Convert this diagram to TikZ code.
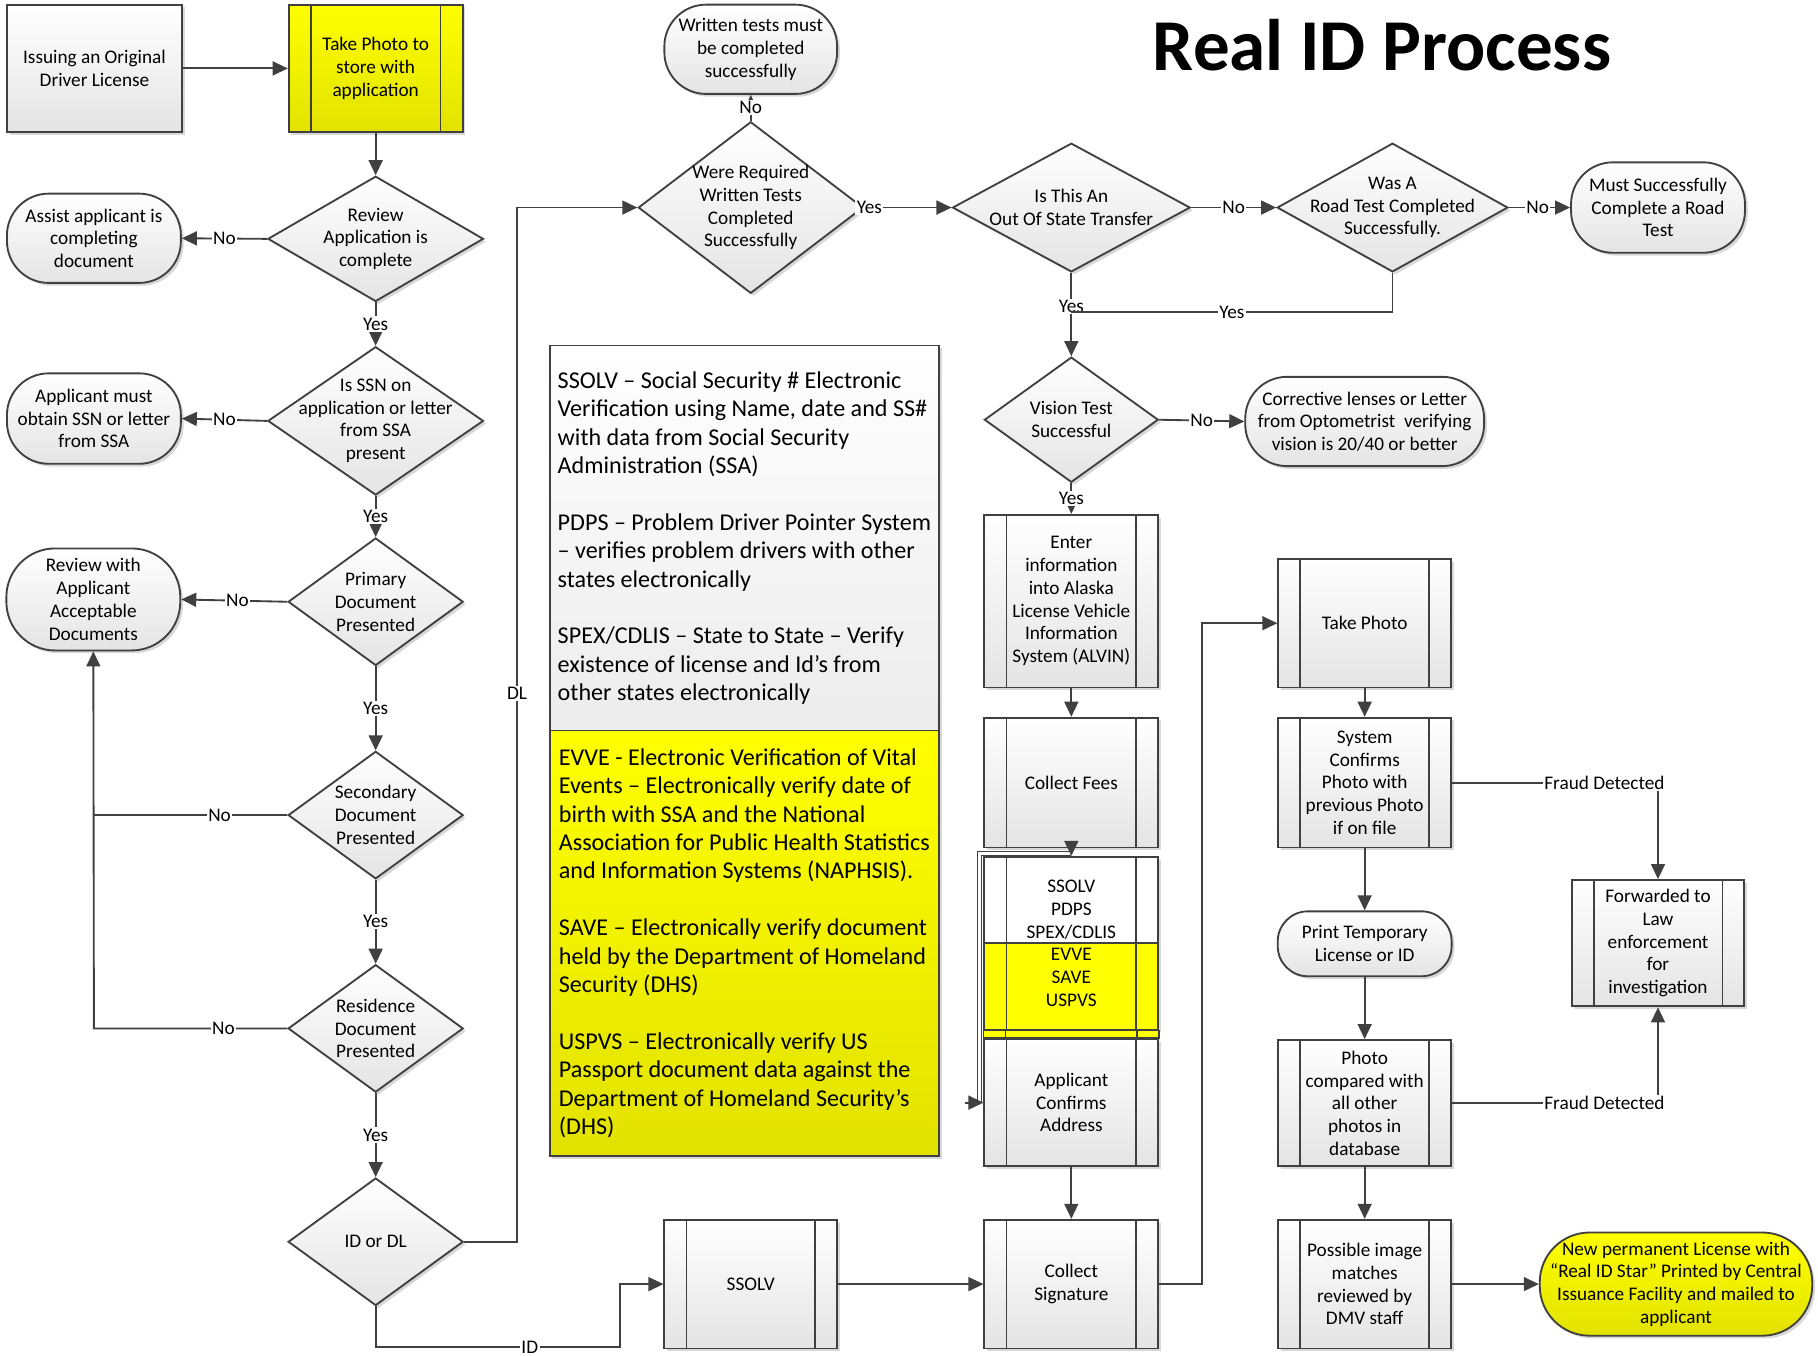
\documentclass[tikz,border=0pt]{standalone}
\usepackage{fontspec}
\setmainfont{Carlito}
\usetikzlibrary{shapes.geometric,arrows.meta,shadows}
\definecolor{lc}{HTML}{404040}
\definecolor{gbot}{HTML}{E4E4E4}
\definecolor{ytop}{HTML}{FFFF00}
\definecolor{ybot}{HTML}{E2E200}
\newcommand\nfont{\fontsize{8.3pt}{9.8pt}\selectfont}
\newcommand\ifont{\fontsize{10.4pt}{12.25pt}\selectfont}
\newcommand\tfont{\fontsize{31.5pt}{36pt}\selectfont\bfseries}
\newcommand\pplines{\draw[lc,line width=.75pt]
  ([xshift=9.5pt]path picture bounding box.north west) -- ([xshift=9.5pt]path picture bounding box.south west)
  ([xshift=-9.5pt]path picture bounding box.north east) -- ([xshift=-9.5pt]path picture bounding box.south east);}
\begin{document}
\begin{tikzpicture}[x=0.5pt,y=-0.5pt,
  shd/.style={drop shadow={shadow xshift=1.2pt, shadow yshift=-1.2pt, opacity=.25, fill=black!60}},
  gbox/.style={rectangle, draw=lc, line width=.8pt, top color=white, bottom color=gbot, shd,
     font=\nfont, align=center, inner sep=2pt, text=black},
  pbox/.style={gbox, path picture={\pplines}},
  ybox/.style={pbox, top color=ytop, bottom color=ybot},
  dec/.style={diamond, draw=lc, line width=.8pt, top color=white, bottom color=gbot, shd, inner sep=0pt},
  dtxt/.style={font=\nfont, align=center, inner sep=0pt, text=black},
  term/.style={gbox, rounded corners=18pt},
  lab/.style={fill=white, inner sep=.6pt, font=\nfont, text=black},
  ln/.style={draw=lc, line width=.8pt},
  arr/.style={draw=lc, line width=.8pt, -{Triangle[length=6.5pt,width=6pt]}},
  dbl/.style={draw=lc, line width=.45pt, double=white, double distance=1.1pt}
]
\fill[white] (0,0) rectangle (1568,1168.7);
\useasboundingbox (0,0) rectangle (1568,1168.7);

% title
\node[font=\tfont, text=black] (title) at (1192,39) {Real ID Process};

% left column
\node[gbox, minimum width=75.5pt, minimum height=55pt] (issue) at (81.5,59) {Issuing an Original\\Driver License};
\node[ybox, minimum width=75pt, minimum height=55pt] (tp1) at (324,59) {Take Photo to\\store with\\application};
\node[dec, minimum width=93pt, minimum height=54pt, label={[dtxt]center:{Review\\Application is\\complete}}] (rev) at (324,206) {};
\node[term, minimum width=75pt, minimum height=38.5pt] (assist) at (81,205.5) {Assist applicant is\\completing\\document};
\node[dec, minimum width=93pt, minimum height=64pt, label={[dtxt]center:{Is SSN on\\application or letter\\from SSA\\present}}] (ssn) at (324,363) {};
\node[term, minimum width=75pt, minimum height=39pt] (appmust) at (81,361) {Applicant must\\obtain SSN or letter\\from SSA};
\node[dec, minimum width=75.5pt, minimum height=55pt, label={[dtxt]center:{Primary\\Document\\Presented}}] (prim) at (324,519) {};
\node[term, rounded corners=21pt, minimum width=75pt, minimum height=44pt] (revwith) at (80.5,517) {Review with\\Applicant\\Acceptable\\Documents};
\node[dec, minimum width=75.5pt, minimum height=55pt, label={[dtxt]center:{Secondary\\Document\\Presented}}] (sec) at (324,703) {};
\node[dec, minimum width=75.5pt, minimum height=55pt, label={[dtxt]center:{Residence\\Document\\Presented}}] (res) at (324,887) {};
\node[dec, minimum width=75.5pt, minimum height=55pt, label={[dtxt]center:{ID or DL}}] (iddl) at (324,1071) {};

% top middle
\node[term, minimum width=74.5pt, minimum height=38.5pt] (written) at (647.5,42.5) {Written tests must\\be completed\\successfully};
\node[dec, minimum width=97pt, minimum height=74pt, label={[dtxt]center:{Were Required\\Written Tests\\Completed\\Successfully}}] (were) at (647.5,179) {};
\node[dec, minimum width=102.5pt, minimum height=55.5pt, label={[dtxt]center:{Is This An\\Out Of State Transfer}}] (oos) at (924,179) {};
\node[dec, minimum width=99.5pt, minimum height=55.5pt, label={[dtxt]center:{Was A\\Road Test Completed\\Successfully.}}] (road) at (1201,179) {};
\node[term, minimum width=75pt, minimum height=39pt] (must) at (1430,179) {Must Successfully\\Complete a Road\\Test};
\node[dec, minimum width=75pt, minimum height=54pt, label={[dtxt]center:{Vision Test\\Successful}}] (vis) at (924,362) {};
\node[term, minimum width=103pt, minimum height=38.5pt] (corr) at (1177,363.5) {Corrective lenses or Letter\\from Optometrist\ \ verifying\\vision is 20/40 or better};

% info boxes
\node[rectangle, draw=lc, line width=.8pt, top color=white, bottom color=gbot!70, shd,
  minimum width=168pt, minimum height=166pt, align=left, font=\ifont, inner sep=2pt, text=black] (info1) at (642,464)
  {SSOLV – Social Security \# Electronic\\Verification using Name, date and SS\#\\with data from Social Security\\Administration (SSA)\\[12.25pt]
   PDPS – Problem Driver Pointer System\\– verifies problem drivers with other\\states electronically\\[12.25pt]
   SPEX/CDLIS – State to State – Verify\\existence of license and Id’s from\\other states electronically};
\node[rectangle, draw=lc, line width=.8pt, top color=ytop, bottom color=ybot, shd,
  minimum width=168pt, minimum height=183.5pt, align=left, font=\ifont, inner sep=2pt, text=black] (info2) at (642,813.5)
  {EVVE - Electronic Verification of Vital\\Events – Electronically verify date of\\birth with SSA and the National\\Association for Public Health Statistics\\and Information Systems (NAPHSIS).\\[12.25pt]
   SAVE – Electronically verify document\\held by the Department of Homeland\\Security (DHS)\\[12.25pt]
   USPVS – Electronically verify US\\Passport document data against the\\Department of Homeland Security’s\\(DHS)};

% middle column
\node[pbox, minimum width=75pt, minimum height=74.5pt] (enter) at (924,518.5) {Enter\\information\\into Alaska\\License Vehicle\\Information\\System (ALVIN)};
\node[pbox, minimum width=75pt, minimum height=56pt] (fees) at (924,675) {Collect Fees};
\node[gbox, top color=white, bottom color=white, minimum width=75pt, minimum height=74.5pt,
  path picture={\fill[ytop] (path picture bounding box.west) rectangle (path picture bounding box.south east);
    \draw[lc,line width=.8pt] (path picture bounding box.west) -- (path picture bounding box.east); \pplines}] (stk) at (924,813.5)
  {SSOLV\\PDPS\\SPEX/CDLIS\\EVVE\\SAVE\\USPVS};
\node[pbox, minimum width=75pt, minimum height=55pt] (app) at (924,951) {Applicant\\Confirms\\Address};
\path[fill=ytop, draw=lc, line width=.8pt] (stk.south west) rectangle (app.north east);
\draw[lc, line width=.8pt] ([xshift=9.5pt]stk.south west) -- ([xshift=9.5pt]app.north west)
  ([xshift=-9.5pt]stk.south east) -- ([xshift=-9.5pt]app.north east);
\node[pbox, minimum width=75pt, minimum height=55.5pt] (sig) at (924,1107.5) {Collect\\Signature};
\node[pbox, minimum width=74.5pt, minimum height=55.5pt] (ssolv) at (647.5,1107.5) {SSOLV};

% right column
\node[pbox, minimum width=74.5pt, minimum height=55.5pt] (tp2) at (1177,537.5) {Take Photo};
\node[pbox, minimum width=74.5pt, minimum height=56pt] (sys) at (1177,675) {System\\Confirms\\Photo with\\previous Photo\\if on file};
\node[term, rounded corners=13pt, minimum width=75pt, minimum height=28pt] (print) at (1177,814) {Print Temporary\\License or ID};
\node[pbox, minimum width=74.5pt, minimum height=54.5pt] (cmp) at (1177,951.5) {Photo\\compared with\\all other\\photos in\\database};
\node[pbox, minimum width=74.5pt, minimum height=55.5pt] (poss) at (1177,1107.5) {Possible image\\matches\\reviewed by\\DMV staff};
\node[pbox, minimum width=74.5pt, minimum height=54.5pt] (fwd) at (1430,813.5) {Forwarded to\\Law\\enforcement\\for\\investigation};
\node[term, rounded corners=21.5pt, top color=ytop, bottom color=ybot, minimum width=117.5pt, minimum height=44.5pt] (newp) at (1445.5,1107.5)
  {New permanent License with\\“Real ID Star” Printed by Central\\Issuance Facility and mailed to\\applicant};

% coordinates
\coordinate (secj) at (81,703);
\coordinate (resj) at (81,887);
\coordinate (dl1) at (446,1071);
\coordinate (dl2) at (446,179);
\coordinate (id1) at (324,1162);
\coordinate (id2) at (535,1162);
\coordinate (id3) at (535,1107.5);
\coordinate (rdj) at (1201,269);
\coordinate (rdk) at (924,269);
\coordinate (dA) at (924,736);
\coordinate (dB) at (845,736);
\coordinate (dC) at (845,951);
\coordinate (dD) at (832,951);
\coordinate (sg1) at (1037,1107.5);
\coordinate (sg2) at (1037,537.5);
\coordinate (fr1) at (1430,675);
\coordinate (fr2) at (1430,951.5);

% connectors
\draw[arr] (issue) -- (tp1);
\draw[arr] (tp1) -- (rev);
\draw[arr] (rev.west) -- node[lab]{No} (assist.east);
\draw[arr] (rev.south) -- node[lab]{Yes} (ssn.north);
\draw[arr] (ssn.west) -- node[lab]{No} (appmust.east);
\draw[arr] (ssn.south) -- node[lab]{Yes} (prim.north);
\draw[arr] (prim.west) -- node[lab,pos=.47]{No} (revwith.east);
\draw[arr] (prim.south) -- node[lab]{Yes} (sec.north);
\draw[ln] (sec.west) -- node[lab,pos=.35]{No} (secj);
\draw[arr] (sec.south) -- node[lab]{Yes} (res.north);
\draw[arr] (res.west) -- node[lab,pos=.33]{No} (resj) -- (revwith.south);
\draw[arr] (res.south) -- node[lab]{Yes} (iddl.north);
\draw[arr] (iddl.east) -- (dl1) -- node[lab,pos=.53]{DL} (dl2) -- (were.west);
\draw[arr] (iddl.south) -- (id1) -- node[lab,pos=.63]{ID} (id2) -- (id3) -- (ssolv.west);
\draw[arr] (were.north) -- node[lab]{No} (written.south);
\draw[arr] (were.east) -- node[lab,pos=.06]{Yes} (oos.west);
\draw[arr] (oos.east) -- node[lab]{No} (road.west);
\draw[arr] (road.east) -- node[lab,pos=.47]{No} (must.west);
\draw[arr] (oos.south) -- node[lab,pos=.4]{Yes} (vis.north);
\draw[ln] (road.south) -- (rdj) -- node[lab]{Yes} (rdk);
\draw[arr] (vis.east) -- node[lab]{No} (corr.west);
\draw[arr] (vis.south) -- node[lab]{Yes} (enter.north);
\draw[arr] (enter) -- (fees);
\draw[dbl] (dA) -- (dB) -- (dC);
\draw[arr] (dD) -- (app.west);
\draw[arr] (fees.south) -- (stk.north);
\draw[arr] (app) -- (sig);
\draw[arr] (ssolv) -- (sig);
\draw[arr] (sig.east) -- (sg1) -- (sg2) -- (tp2.west);
\draw[arr] (tp2) -- (sys);
\draw[arr] (sys) -- (print);
\draw[arr] (print) -- (cmp);
\draw[arr] (cmp) -- (poss);
\draw[arr] (poss.east) -- (newp.west);
\draw[arr] (sys.east) -- node[lab,pos=.74]{Fraud Detected} (fr1) -- (fwd.north);
\draw[arr] (cmp.east) -- node[lab,pos=.74]{Fraud Detected} (fr2) -- (fwd.south);
\end{tikzpicture}
\end{document}
